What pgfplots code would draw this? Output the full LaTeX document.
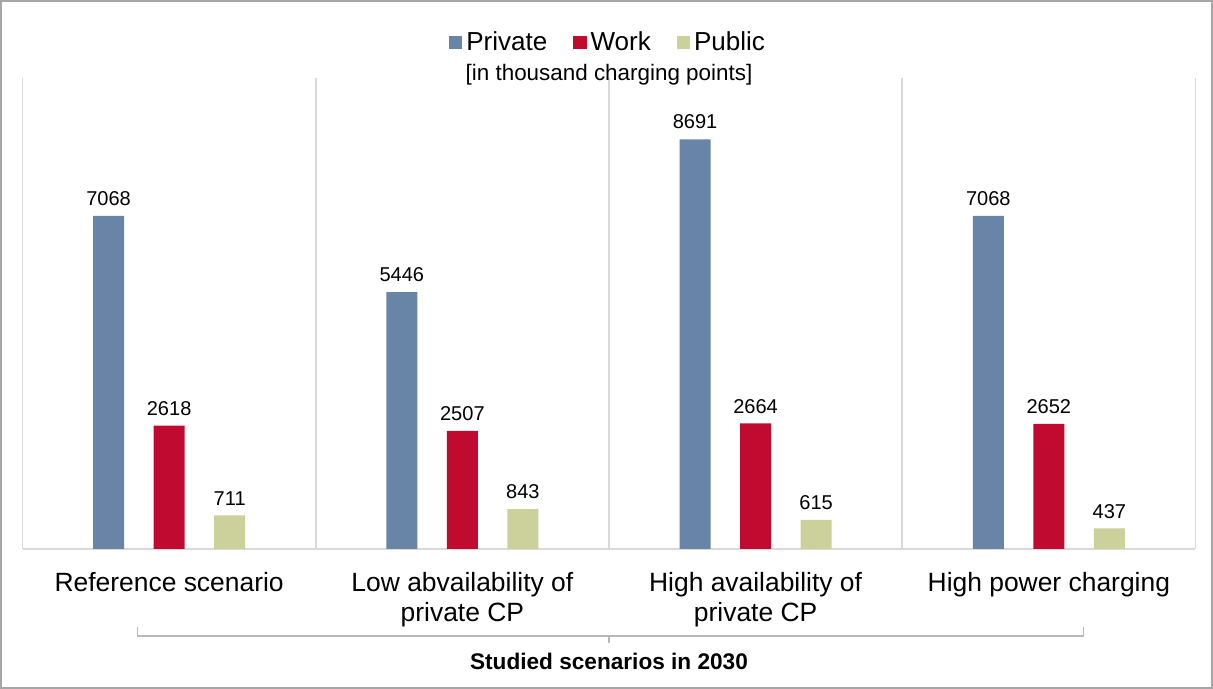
\documentclass[border=0pt]{standalone}
\usepackage{pgfplots}
\pgfplotsset{compat=1.18}
\usepackage{fontspec}
\setmainfont{Liberation Sans}
\definecolor{cPriv}{RGB}{104,132,166}
\definecolor{cWork}{RGB}{192,10,48}
\definecolor{cPub}{RGB}{204,208,154}
\definecolor{cGrid}{RGB}{217,217,217}
\definecolor{cFrame}{RGB}{166,166,166}
\begin{document}
\begin{tikzpicture}
\begin{axis}[
  scale only axis,
  width=586pt, height=235.5pt,
  ybar, clip=false,
  xmin=-0.5, xmax=3.5, ymin=0, ymax=10000,
  axis x line*=bottom, axis y line=none,
  x axis line style={draw=cGrid, line width=0.8pt, -},
  xtick={0,1,2,3},
  xticklabels={{Reference scenario},{Low abvailability of\\private CP},{High availability of\\private CP},{High power charging}},
  xticklabel style={align=center, font=\fontsize{13.2}{15}\selectfont, yshift=-8pt, anchor=north},
  major tick length=0pt,
  minor xtick={-0.5,0.5,1.5,2.5,3.5},
  xminorgrids, minor tick length=0pt,
  minor grid style={draw=cGrid, line width=0.8pt},
  ytick=\empty,
  bar width=15.5pt,
  nodes near coords,
  nodes near coords style={font=\fontsize{10}{12}\selectfont, black, yshift=1.5pt},
  /pgf/number format/assume math mode=true,
  /pgf/number format/1000 sep={},
  legend columns=3,
  legend style={draw=none, fill=none, at={(rel axis cs:0.5,1.075)}, anchor=center,
    font=\fontsize{13}{15}\selectfont,
    /tikz/every even column/.append style={column sep=11pt}},
  legend image code/.code={\fill[#1] (0pt,-3.3pt) rectangle (6.6pt,3.3pt);},
]
\addplot[fill=cPriv, draw=none, bar shift=-30.25pt] coordinates {(0,7068) (1,5446) (2,8691) (3,7068)};
\addplot[fill=cWork, draw=none, bar shift=0pt] coordinates {(0,2618) (1,2507) (2,2664) (3,2652)};
\addplot[fill=cPub, draw=none, bar shift=30.25pt] coordinates {(0,711) (1,843) (2,615) (3,437)};
\legend{Private, Work, Public}
\node[font=\fontsize{11.2}{13}\selectfont] at (rel axis cs:0.5,1.006) {[in thousand charging points]};
% brace
\draw[cFrame!80, line width=0.8pt] (axis cs:-0.1075,-1650) -- (axis cs:-0.1075,-1841) -- (axis cs:3.118,-1841) -- (axis cs:3.118,-1650);
\draw[cFrame!80, line width=0.8pt] (axis cs:1.5,-1841) -- (axis cs:1.5,-2000);
\node[font=\bfseries\fontsize{11.3}{13}\selectfont] at (axis cs:1.5,-2391) {Studied scenarios in 2030};
% frame
\draw[cFrame, line width=1pt] (rel axis cs:-0.01834,-0.2941) rectangle (rel axis cs:1.01408,1.1624);
\end{axis}
\end{tikzpicture}
\end{document}
